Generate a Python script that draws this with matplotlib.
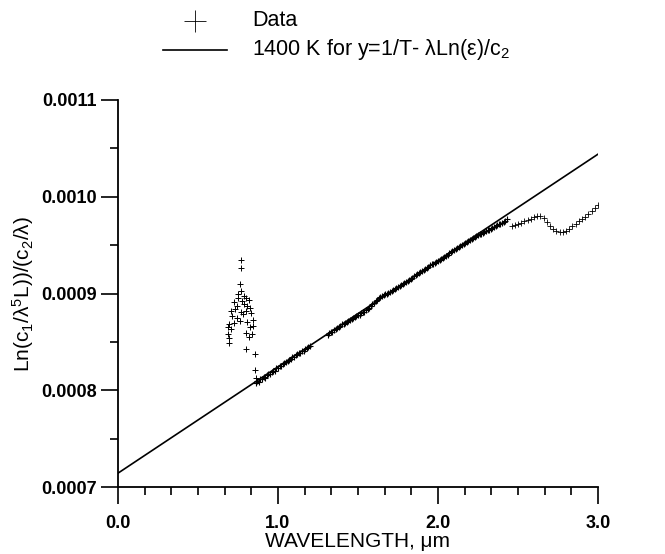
import matplotlib
matplotlib.use("Agg")
import matplotlib.pyplot as plt
from matplotlib.lines import Line2D
from matplotlib.ticker import MultipleLocator, FormatStrFormatter
import numpy as np

plt.rcParams['font.family'] = ['Liberation Sans', 'DejaVu Sans']
plt.rcParams['mathtext.fontset'] = 'custom'
plt.rcParams['mathtext.rm'] = 'Liberation Sans'
plt.rcParams['mathtext.default'] = 'regular'

# noisy points near the detector crossover (wavelength um, value x1e-4)
noise_wl = [0.769, 0.769, 0.760, 0.769, 0.787, 0.802, 0.820, 0.753, 0.726, 0.742,
            0.787, 0.809, 0.827, 0.708, 0.730, 0.769, 0.798, 0.831, 0.712, 0.746,
            0.782, 0.843, 0.696, 0.726, 0.764, 0.809, 0.690, 0.708, 0.825, 0.798,
            0.838, 0.816, 0.685, 0.692, 0.697, 0.802, 0.854, 0.858, 0.865, 0.775,
            0.748, 0.843]
noise_val = [9.35, 9.26, 9.10, 9.03, 8.97, 8.95, 8.93, 8.95, 8.91, 8.87,
             8.89, 8.87, 8.85, 8.82, 8.84, 8.81, 8.82, 8.80, 8.77, 8.75,
             8.79, 8.73, 8.68, 8.70, 8.72, 8.71, 8.65, 8.63, 8.65, 8.59,
             8.58, 8.55, 8.58, 8.54, 8.49, 8.43, 8.37, 8.21, 8.13, 8.92,
             8.99, 8.66]

# first detector band, 0.86-1.20 um
band1_wl = [0.86, 0.87, 0.88, 0.89, 0.90, 0.91, 0.92, 0.93, 0.94, 0.95,
            0.96, 0.97, 0.98, 0.99, 1.00, 1.01, 1.02, 1.03, 1.04, 1.05,
            1.06, 1.07, 1.08, 1.09, 1.10, 1.11, 1.12, 1.13, 1.14, 1.15,
            1.16, 1.17, 1.18, 1.19, 1.20]
band1_val = [8.08, 8.10, 8.09, 8.12, 8.12, 8.14, 8.13, 8.16, 8.17, 8.17,
             8.19, 8.20, 8.20, 8.23, 8.23, 8.25, 8.25, 8.27, 8.28, 8.29,
             8.30, 8.31, 8.32, 8.34, 8.34, 8.36, 8.37, 8.38, 8.39, 8.41,
             8.41, 8.43, 8.44, 8.45, 8.46]

# second detector band, 1.31-2.43 um
band2_wl = [1.31, 1.32, 1.33, 1.34, 1.35, 1.36, 1.37, 1.38, 1.39, 1.40,
            1.41, 1.42, 1.43, 1.44, 1.45, 1.46, 1.47, 1.48, 1.49, 1.50,
            1.51, 1.52, 1.53, 1.54, 1.55, 1.56, 1.57, 1.58, 1.59, 1.60,
            1.61, 1.62, 1.63, 1.64, 1.65, 1.66, 1.67, 1.68, 1.69, 1.70,
            1.71, 1.72, 1.73, 1.74, 1.75, 1.76, 1.77, 1.78, 1.79, 1.80,
            1.81, 1.82, 1.83, 1.84, 1.85, 1.86, 1.87, 1.88, 1.89, 1.90,
            1.91, 1.92, 1.93, 1.94, 1.95, 1.96, 1.97, 1.98, 1.99, 2.00,
            2.01, 2.02, 2.03, 2.04, 2.05, 2.06, 2.07, 2.08, 2.09, 2.10,
            2.11, 2.12, 2.13, 2.14, 2.15, 2.16, 2.17, 2.18, 2.19, 2.20,
            2.21, 2.22, 2.23, 2.24, 2.25, 2.26, 2.27, 2.28, 2.29, 2.30,
            2.31, 2.32, 2.33, 2.34, 2.35, 2.36, 2.37, 2.38, 2.39, 2.40,
            2.41, 2.42, 2.43]
band2_val = [8.57, 8.59, 8.60, 8.60, 8.62, 8.63, 8.64, 8.65, 8.66, 8.68,
             8.68, 8.70, 8.71, 8.72, 8.73, 8.74, 8.75, 8.76, 8.77, 8.78,
             8.78, 8.80, 8.81, 8.81, 8.83, 8.84, 8.85, 8.87, 8.89, 8.90,
             8.92, 8.93, 8.95, 8.96, 8.97, 8.98, 8.99, 9.00, 9.01, 9.02,
             9.03, 9.04, 9.05, 9.06, 9.07, 9.08, 9.09, 9.10, 9.11, 9.12,
             9.13, 9.14, 9.15, 9.16, 9.18, 9.19, 9.20, 9.21, 9.22, 9.23,
             9.24, 9.25, 9.26, 9.27, 9.29, 9.30, 9.31, 9.32, 9.33, 9.34,
             9.35, 9.36, 9.37, 9.38, 9.39, 9.40, 9.42, 9.43, 9.44, 9.45,
             9.46, 9.47, 9.48, 9.49, 9.50, 9.51, 9.52, 9.53, 9.54, 9.55,
             9.56, 9.57, 9.58, 9.59, 9.60, 9.61, 9.62, 9.63, 9.64, 9.65,
             9.66, 9.66, 9.67, 9.68, 9.69, 9.70, 9.71, 9.72, 9.72, 9.73,
             9.74, 9.75, 9.77]

# long-wavelength tail
tail_wl = [2.46, 2.48, 2.50, 2.52, 2.54, 2.56, 2.58, 2.60, 2.62, 2.64,
           2.66, 2.68, 2.70, 2.72, 2.74, 2.76, 2.78, 2.80, 2.82, 2.84,
           2.86, 2.88, 2.90, 2.92, 2.94, 2.96, 2.98, 3.00]
tail_val = [9.70, 9.71, 9.72, 9.73, 9.75, 9.76, 9.77, 9.79, 9.80, 9.80,
            9.78, 9.74, 9.70, 9.67, 9.65, 9.64, 9.64, 9.65, 9.67, 9.70,
            9.72, 9.75, 9.77, 9.79, 9.82, 9.85, 9.88, 9.91]

# 1400 K straight line end points
fit_wl = [0.0, 3.0]
fit_val = [7.143, 10.44]

fig = plt.figure(figsize=(6.65, 5.54), dpi=100)
ax = fig.add_axes([0.1774, 0.1209, 0.7218, 0.6986])

ax.plot(fit_wl, np.array(fit_val) * 1e-4, '-', color='black', linewidth=1.2)
ax.plot(noise_wl, np.array(noise_val) * 1e-4, '+', color='black',
        markersize=5, markeredgewidth=0.7)
band_wl = band1_wl + band2_wl
band_val = np.array(band1_val + band2_val) * 1e-4
ax.plot(band_wl, band_val, '+', color='black', markersize=4.5, markeredgewidth=0.8)
ax.plot(tail_wl, np.array(tail_val) * 1e-4, '+', color='black',
        markersize=4, markeredgewidth=0.6)

ax.set_xlim(0, 3.0)
ax.set_ylim(0.0007, 0.0011)
ax.xaxis.set_major_locator(MultipleLocator(1.0))
ax.xaxis.set_minor_locator(MultipleLocator(1.0 / 6))
ax.yaxis.set_major_locator(MultipleLocator(0.0001))
ax.yaxis.set_minor_locator(MultipleLocator(0.00005))
ax.xaxis.set_major_formatter(FormatStrFormatter('%.1f'))
ax.yaxis.set_major_formatter(FormatStrFormatter('%.4f'))
ax.tick_params(which='major', direction='out', length=12, width=1.2,
               labelsize=13, pad=3)
ax.tick_params(axis='x', which='major', pad=8)
ax.tick_params(which='minor', direction='out', length=6, width=1.2)
for lab in ax.get_xticklabels() + ax.get_yticklabels():
    lab.set_fontweight('bold')

for side in ['top', 'right']:
    ax.spines[side].set_visible(False)
for side in ['left', 'bottom']:
    ax.spines[side].set_linewidth(1.3)

ax.set_xlabel('WAVELENGTH, μm', fontsize=15, labelpad=0)
ax.set_ylabel('Ln(c$_1$/λ$^5$L))/(c$_2$/λ)', fontsize=15, labelpad=4)

# legend drawn in figure coordinates
W, H = 665.0, 554.0
fig.add_artist(Line2D([195 / W], [1 - 21 / H], marker='+', color='black',
                      markersize=16, markeredgewidth=0.6, linestyle='none',
                      transform=fig.transFigure))
fig.text(252 / W, 1 - 21 / H, 'Data', fontsize=15.5, va='center', ha='left')
fig.add_artist(Line2D([163 / W, 227 / W], [1 - 50 / H, 1 - 50 / H],
                      color='black', linewidth=1.2, transform=fig.transFigure))
fig.text(252 / W, 1 - 50 / H, '1400 K for y=1/T- λLn(ε)/c$_2$', fontsize=15.5,
         va='center', ha='left')

fig.savefig('out.png', dpi=100)
